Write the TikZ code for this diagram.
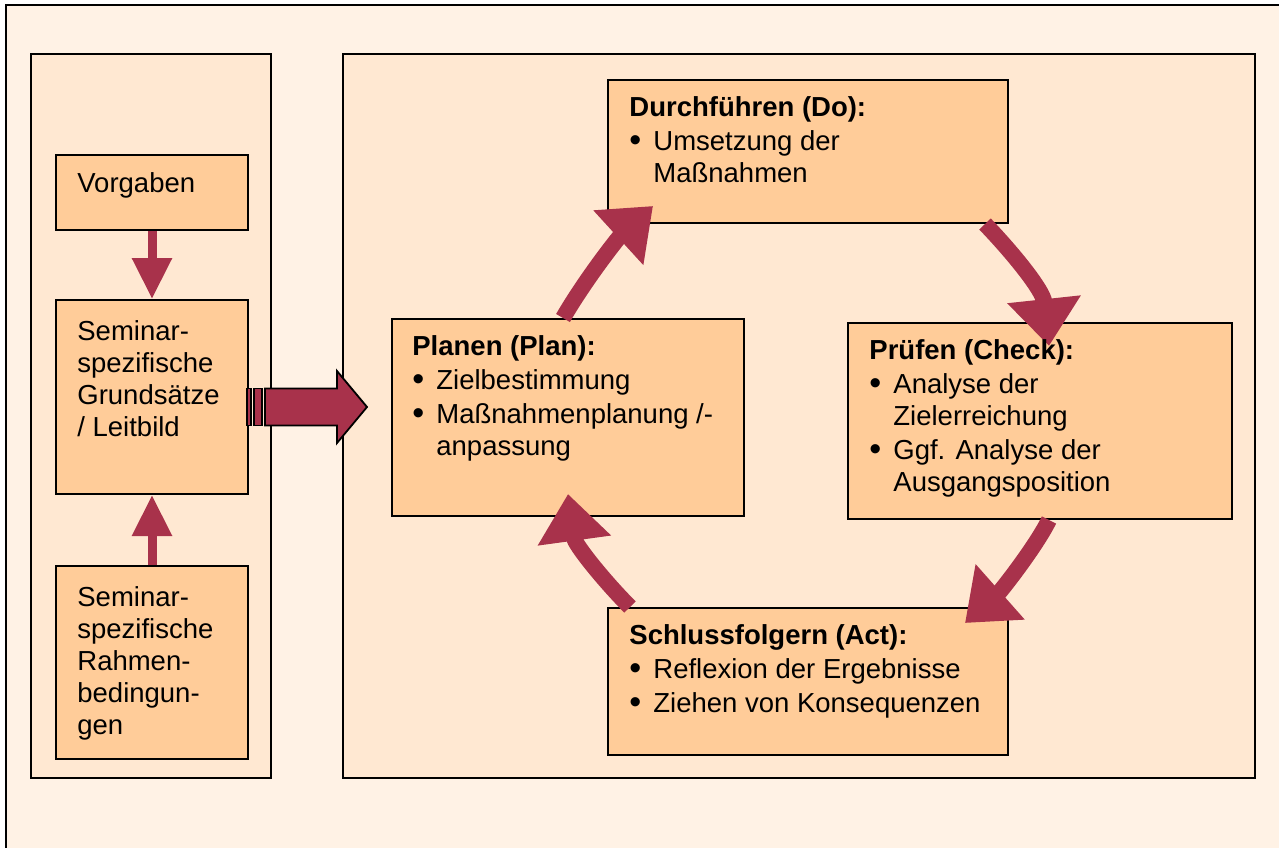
\documentclass[tikz,border=0pt]{standalone}
\usepackage{fontspec}
\setmainfont{Liberation Sans}
\usetikzlibrary{arrows.meta, positioning, calc}

\definecolor{framebg}{RGB}{255,242,229}
\definecolor{panelbg}{RGB}{255,232,210}
\definecolor{boxfill}{RGB}{255,204,153}
\definecolor{arrowred}{RGB}{168,50,75}

\newcommand{\itemdot}{\makebox[12pt][l]{\raisebox{-0.6pt}{\fontsize{17}{16}\selectfont •}}}
\newcommand{\itemgap}{\hspace*{12pt}}

\tikzset{
  panel/.style={draw=black, line width=1pt, fill=panelbg},
  stepbox/.style={draw=black, line width=1pt, fill=boxfill, anchor=north west, inner sep=0pt},
  txt/.style={anchor=base west, inner sep=0pt, align=left, font=\fontsize{13.75}{16}\selectfont},
  smallarrow/.style={arrowred, line width=4.5pt, -{Triangle[length=20.5pt, width=19pt]}},
  cyclearrow/.style={arrowred, line width=8pt, -{Triangle[length=23.5pt, width=35.5pt]}},
  bigarrow/.style={fill=arrowred, draw=black, line width=0.9pt, line join=miter}
}

\begin{document}
\begin{tikzpicture}[x=0.5pt, y=-0.5pt]
  \useasboundingbox (0,0) rectangle (1279,847);
  % frame and panels
  \draw[line width=1pt, fill=framebg] (6,5) rectangle (1300,870);
  \draw[panel] (31,54) rectangle (271,778);
  \draw[panel] (343,54) rectangle (1255,778);

  % left column
  \node[stepbox, minimum width=96pt, minimum height=37.5pt] (vorg) at (55,154) {};
  \node[stepbox, minimum width=96pt, minimum height=97pt] (grund) at (55,299) {};
  \node[stepbox, minimum width=96pt, minimum height=96.5pt] (rahmen) at (55,565) {};

  % cycle boxes
  \node[stepbox, minimum width=200pt, minimum height=71.5pt] (do) at (607,79) {};
  \node[stepbox, minimum width=176pt, minimum height=98.5pt] (plan) at (391,318) {};
  \node[stepbox, minimum width=192pt, minimum height=98pt] (check) at (847,322) {};
  \node[stepbox, minimum width=200pt, minimum height=73.5pt] (act) at (607,607) {};

  % arrows of the left column
  \draw[smallarrow] (vorg.south) -- (grund.north);
  \draw[smallarrow] (rahmen.north) -- (grund.south);

  % striped arrow into the cycle
  \coordinate (bigtail) at (247,407);
  \coordinate (bigtip) at (367,407);
  \draw[bigarrow] ([shift={(0,-18.5)}]bigtail) rectangle ([shift={(4,18.5)}]bigtail);
  \draw[bigarrow] ([shift={(7,-18.5)}]bigtail) rectangle ([shift={(15,18.5)}]bigtail);
  \draw[bigarrow] ([shift={(18,-18.5)}]bigtail) -- ++(72,0) -- ++(0,-17.5) -- (bigtip)
    -- ([shift={(-30,36)}]bigtip) -- ++(0,-17.5) -- ([shift={(18,18.5)}]bigtail) -- cycle;

  % PDCA cycle
  \draw[cyclearrow] ([xshift=86pt]plan.north west) .. controls (585,280) and (618,238) .. ([xshift=23pt, yshift=9pt]do.south west);
  \draw[cyclearrow] ([xshift=-12pt]do.south east) .. controls (1012,252) and (1043,290) .. ([xshift=101pt, yshift=-12pt]check.north west);
  \draw[cyclearrow] ([xshift=101pt]check.south west) .. controls (1035,548) and (1000,592) .. ([xshift=-22pt, yshift=-8pt]act.north east);
  \draw[cyclearrow] ([xshift=11.5pt]act.north west) .. controls (605,582) and (575,545) .. ([xshift=88.5pt, yshift=11.5pt]plan.south west);

  % texts (placed at the baseline of their last line)
  \node[txt] (vorgtxt) at (77,192) {Vorgaben};
  \node[txt] (grundtxt) at (77,436) {Seminar-\\spezifische\\Grundsätze\\/ Leitbild};
  \node[txt] (rahmentxt) at (77,734) {Seminar-\\spezifische\\Rahmen-\\bedingun-\\gen};
  \node[txt] (dotxt) at (629,182) {\textbf{Durchführen (Do):}\\[1pt]\itemdot Umsetzung der\\\itemgap Maßnahmen};
  \node[txt] (plantxt) at (412,455) {\textbf{Planen (Plan):}\\[1pt]\itemdot Zielbestimmung\\[1pt]\itemdot Maßnahmenplanung /-\\\itemgap anpassung};
  \node[txt] (checktxt) at (869,491) {\textbf{Prüfen (Check):}\\[1pt]\itemdot Analyse der\\\itemgap Zielerreichung\\[1pt]\itemdot Ggf. Analyse der\\\itemgap Ausgangsposition};
  \node[txt] (acttxt) at (629,712) {\textbf{Schlussfolgern (Act):}\\[1pt]\itemdot Reflexion der Ergebnisse\\[1pt]\itemdot Ziehen von Konsequenzen};
\end{tikzpicture}
\end{document}
